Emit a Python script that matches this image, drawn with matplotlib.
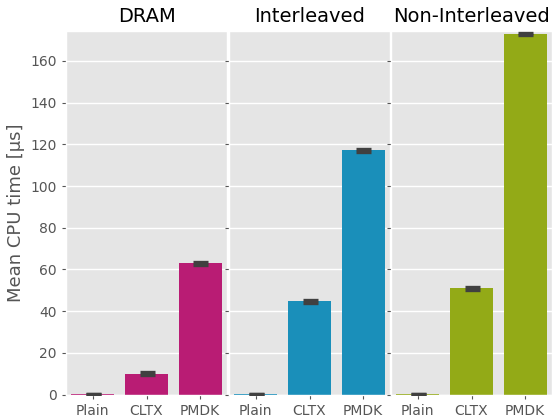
import matplotlib
matplotlib.use("Agg")
import matplotlib.pyplot as plt
import numpy as np

plt.style.use("ggplot")

panels = ["DRAM", "Interleaved", "Non-Interleaved"]
variants = ["Plain", "CLTX", "PMDK"]
colors = ["#B91C74", "#1A8FBA", "#93AA17"]

means = {
    "DRAM": [0.4, 10.0, 63.0],
    "Interleaved": [0.4, 44.8, 117.2],
    "Non-Interleaved": [0.4, 50.9, 172.9],
}
errs = {
    "DRAM": [0.1, 0.7, 0.7],
    "Interleaved": [0.1, 0.7, 0.7],
    "Non-Interleaved": [0.1, 0.7, 0.7],
}

W, H = 554, 417
fig = plt.figure(figsize=(W / 100, H / 100), dpi=100)

lefts = [66, 229, 391]
width = 161
bottom, top = 394.6, 30.7
axes = []
for i, name in enumerate(panels):
    ax = fig.add_axes([lefts[i] / W, (H - bottom) / H, width / W, (bottom - top) / H],
                      sharey=axes[0] if axes else None)
    axes.append(ax)
    x = np.arange(len(variants))
    ax.bar(x, means[name], width=0.8, color=colors[i], zorder=2)
    ax.errorbar(x, means[name], yerr=errs[name], fmt="none", ecolor="#404040",
                elinewidth=2.2, capsize=5.4, capthick=2.4, zorder=3)
    ax.set_xticks(x)
    ax.set_xticklabels(variants)
    ax.set_xlim(-0.5, 2.5)
    ax.set_title(name, fontsize=14, color="black", pad=6)
    ax.grid(axis="x", visible=False)
    ax.grid(axis="y", color="white", linewidth=1.0)
    ax.tick_params(axis="both", colors="#555555", labelcolor="#555555",
                   labelsize=10, length=3)
    if i > 0:
        plt.setp(ax.get_yticklabels(), visible=False)

axes[0].set_ylim(0, 174.5)
axes[0].set_yticks(np.arange(0, 161, 20))
axes[0].set_ylabel("Mean CPU time [µs]", fontsize=13, color="#555555")

fig.savefig("out.png", dpi=100)
